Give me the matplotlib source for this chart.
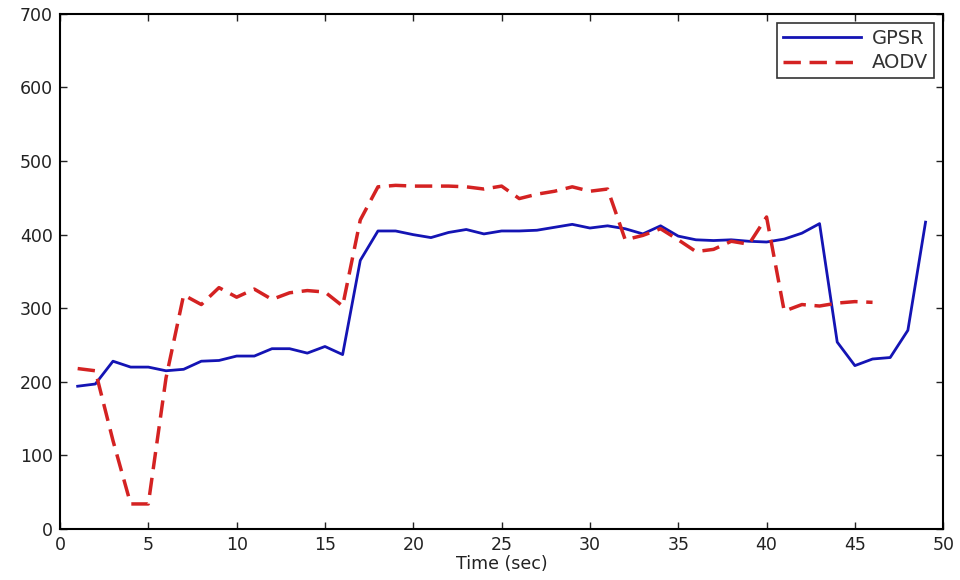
import matplotlib
matplotlib.use("Agg")
import matplotlib.pyplot as plt

# GPSR samples, one per second
gpsr_t = list(range(1, 50))
gpsr_v = [194, 197, 228, 220, 220, 215, 217, 228, 229, 235,
          235, 245, 245, 239, 248, 237, 365, 405, 405, 400,
          396, 403, 407, 401, 405, 405, 406, 410, 414, 409,
          412, 408, 401, 412, 398, 393, 392, 393, 391, 390,
          394, 402, 415, 254, 222, 231, 233, 270, 417]

# AODV samples
aodv_t = list(range(1, 47))
aodv_v = [218, 215, 120, 34, 34, 205, 318, 305, 328, 315,
          326, 312, 321, 324, 322, 303, 420, 465, 467, 466,
          466, 466, 465, 462, 466, 449, 455, 459, 465, 459,
          462, 393, 399, 408, 393, 377, 380, 391, 387, 424,
          296, 305, 303, 307, 309, 308]

xticks = [0, 5, 10, 15, 20, 25, 30, 35, 40, 45, 50]
yticks = [0, 100, 200, 300, 400, 500, 600, 700]

plt.rcParams['font.family'] = ['DejaVu Sans']

fig = plt.figure(figsize=(9.6, 5.8), dpi=100)
ax = fig.add_axes([0.0625, 0.088, 0.92, 0.888])

ax.plot(gpsr_t, gpsr_v, color='#1414b4', lw=2.0, label='GPSR')
ax.plot(aodv_t, aodv_v, color='#d42222', lw=2.5, dashes=(5, 2.5), label='AODV')

ax.set_xlim(0, 50)
ax.set_ylim(0, 700)
ax.set_xticks(xticks)
ax.set_yticks(yticks)
ax.tick_params(direction='in', top=True, right=True, length=5, labelsize=12.5,
               width=1.0, colors='#222222', pad=5)
for s in ax.spines.values():
    s.set_linewidth(1.5)
ax.set_xlabel('Time (sec)', fontsize=12.5, labelpad=1, color='#222222')

leg = ax.legend(loc='upper right', bbox_to_anchor=(0.99, 0.983), borderaxespad=0,
                fontsize=14, fancybox=False, framealpha=1, edgecolor='#333333',
                handlelength=4.0, labelspacing=0.3, borderpad=0.3,
                handletextpad=0.6)
leg.get_frame().set_linewidth(1.2)
for t in leg.get_texts():
    t.set_color('#333333')

fig.savefig('out.png', dpi=100)
